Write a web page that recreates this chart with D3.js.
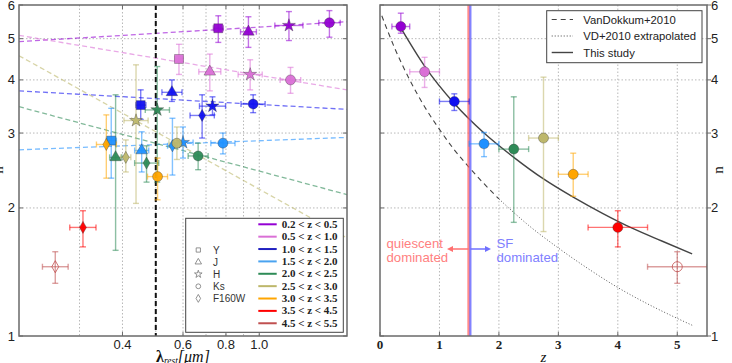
<!DOCTYPE html>
<html><head><meta charset="utf-8">
<script src="https://cdn.jsdelivr.net/npm/d3@7"></script>
<style>body{margin:0;background:#fff}</style>
</head><body>
<svg id="c" width="732" height="363"></svg>
<script>
// ---------------- data ----------------
const bins = ["0.2 < z < 0.5","0.5 < z < 1.0","1.0 < z < 1.5","1.5 < z < 2.0","2.0 < z < 2.5","2.5 < z < 3.0","3.0 < z < 3.5","3.5 < z < 4.5","4.5 < z < 5.5"];
const binColors = ["#9400d3","#da70d6","#1010f0","#1e90ff","#2e8b57","#bdb76b","#ffa500","#ff0000","#c05050"];
const legendLineColors = ["#9400d3","#da70d6","#2020c0","#4aa3f0","#2e8b57","#bdb76b","#ffa500","#ff0000","#c05050"];
const bands = ["Y","J","H","Ks","F160W"];
const xTicksLeft = [0.4,0.6,0.8,1.0];
const xGridLeft = [0.3,0.4,0.5,0.6,0.7,0.8,0.9,1.0];
const yTicks = [1,2,3,4,5,6];
const xTicksRight = [0,1,2,3,4,5];

// left panel: n vs rest-frame wavelength
const pBin  = [0,0,0,0, 1,1,1,1, 2,2,2,2,2, 3,3,3,3,3, 4,4,4,4, 5,5,5, 6,6, 7, 8];
const pBand = ["Y","J","H","Ks", "Y","J","H","Ks", "Y","J","H","Ks","F160W", "Y","J","H","F160W","Ks", "J","H","F160W","Ks", "H","F160W","Ks", "F160W","Ks", "F160W","F160W"];
const pLam  = [0.760,0.930,1.220,1.600, 0.584,0.718,0.941,1.233, 0.452,0.557,0.731,0.960,0.682, 0.371,0.455,0.600,0.559,0.784, 0.382,0.505,0.470,0.664, 0.438,0.409,0.576, 0.359,0.506, 0.307, 0.255];
const pLamLo= [0.735,0.882,1.110,1.490, 0.568,0.667,0.868,1.150, 0.437,0.521,0.670,0.885,0.629, 0.359,0.434,0.561,0.541,0.723, 0.367,0.466,0.434,0.621, 0.404,0.395,0.546, 0.336,0.473, 0.281, 0.234];
const pLamHi= [0.786,0.981,1.340,1.720, 0.600,0.773,1.020,1.320, 0.468,0.596,0.798,1.040,0.740, 0.384,0.477,0.642,0.578,0.850, 0.398,0.548,0.510,0.710, 0.475,0.423,0.608, 0.384,0.541, 0.335, 0.278];
const pN    = [5.29,5.19,5.37,5.45, 4.48,4.18,4.12,4.00, 3.49,3.74,3.47,3.51,3.30, 2.88,2.73,2.85,2.80,2.84, 2.63,3.40,2.55,2.65, 3.21,2.63,2.84, 2.82,2.37, 1.80, 1.455];
const pNLo  = [4.90,4.77,4.95,5.04, 4.12,3.77,3.79,3.72, 3.23,3.56,3.31,3.35,2.92, 2.35,2.43,2.62,2.39,2.68, 1.59,2.30,2.30,2.46, 2.05,2.43,2.60, 2.35,2.09, 1.62, 1.33];
const pNHi  = [5.66,5.63,5.79,5.82, 4.85,4.60,4.46,4.28, 3.79,4.00,3.65,3.69,3.69, 3.43,3.02,3.10,3.25,3.00, 3.69,4.30,2.80,2.84, 4.34,2.89,3.10, 3.31,2.62, 1.97, 1.578];

// left panel: per-bin trend lines (n at lambda = 0.2 and 1.8)
const fitBin = [0,1,2,3,4,5];
const fitNStart = [4.92,5.09,3.77,2.74,3.46,4.56];
const fitNEnd   = [5.48,3.79,3.41,2.93,2.15,1.70];
const lamSplit = 0.5;

// right panel: n vs z
const rz   = [0.35,0.75,1.25,1.75,2.25,2.75,3.25,4.0,5.0];
const rzLo = [0.2,0.5,1.0,1.5,2.0,2.5,3.0,3.5,4.5];
const rzHi = [0.5,1.0,1.5,2.0,2.5,3.0,3.5,4.5,5.5];
const rn   = [5.34,4.18,3.56,2.83,2.75,2.92,2.40,1.80,1.455];
const rnLo = [5.15,3.84,3.39,2.64,1.85,1.76,2.13,1.62,1.33];
const rnHi = [5.74,4.52,3.71,3.01,3.65,4.06,2.69,1.97,1.578];

const studyZ = [0.35,0.75,1.25,1.75,2.25,2.75,3.25,3.75,4.25,4.75,5.25];
const studyN = [5.30,4.31,3.52,3.00,2.63,2.34,2.12,1.94,1.79,1.67,1.56];
const vdZ = [0.03,0.25,0.5,0.75,1.0,1.25,1.5,1.75,2.0];
const vdN = [5.66,4.74,4.00,3.46,3.06,2.74,2.49,2.28,2.10];
const vdExtZ = [2.0,2.5,3.0,3.5,4.0,4.5,5.0,5.25];
const vdExtN = [2.10,1.82,1.61,1.44,1.30,1.19,1.10,1.06];
const zSplitQ = 1.49, zSplitSF = 1.52;
const rightLegend = ["VanDokkum+2010","VD+2010 extrapolated","This study"];

// ---------------- drawing ----------------
const svg = d3.select("#c");
const L = {x0:19, x1:347, y0:5, y1:336};
const R = {x0:380, x1:707, y0:5, y1:336};
const xL = d3.scaleLog().domain([0.2,1.8]).range([L.x0,L.x1]);
const yS = d3.scaleLog().domain([1,6]).range([L.y1,L.y0]);
const xR = d3.scaleLinear().domain([0,5.5]).range([R.x0,R.x1]);
const sans = "Liberation Sans, Arial, sans-serif";
const serif = "Liberation Serif, DejaVu Serif, serif";
const gridCol = "#b8b8b8";
const frameCol = "#6a6a6a";

const symMap = {Y:d3.symbolSquare, J:d3.symbolTriangle, H:d3.symbolStar, Ks:d3.symbolCircle, F160W:d3.symbolDiamond};
const symSize = {Y:80, J:58, H:52, Ks:78, F160W:42};

function clip(id, P){
  svg.append("clipPath").attr("id",id).append("rect")
    .attr("x",P.x0).attr("y",P.y0).attr("width",P.x1-P.x0).attr("height",P.y1-P.y0);
}
clip("cl",L); clip("cr",R);

function errbar(g, x, y, xlo, xhi, ylo, yhi, col){
  const eg = g.append("g").attr("stroke",col).attr("stroke-opacity",0.55).attr("stroke-width",1.4).attr("fill","none");
  eg.append("line").attr("x1",xlo).attr("x2",xhi).attr("y1",y).attr("y2",y);
  eg.append("line").attr("x1",x).attr("x2",x).attr("y1",ylo).attr("y2",yhi);
  eg.append("line").attr("x1",xlo).attr("x2",xlo).attr("y1",y-3).attr("y2",y+3);
  eg.append("line").attr("x1",xhi).attr("x2",xhi).attr("y1",y-3).attr("y2",y+3);
  eg.append("line").attr("x1",x-3).attr("x2",x+3).attr("y1",ylo).attr("y2",ylo);
  eg.append("line").attr("x1",x-3).attr("x2",x+3).attr("y1",yhi).attr("y2",yhi);
}

// ===== LEFT PANEL =====
const gl = svg.append("g");
xGridLeft.forEach(v=>gl.append("line").attr("x1",xL(v)).attr("x2",xL(v)).attr("y1",L.y0).attr("y2",L.y1)
  .attr("stroke",gridCol).attr("stroke-dasharray","1.5,2").attr("stroke-width",1));
yTicks.slice(1,-1).forEach(v=>gl.append("line").attr("x1",L.x0).attr("x2",L.x1).attr("y1",yS(v)).attr("y2",yS(v))
  .attr("stroke",gridCol).attr("stroke-dasharray","1.5,2").attr("stroke-width",1));

const glc = gl.append("g").attr("clip-path","url(#cl)");
fitBin.forEach((b,i)=>{
  glc.append("line").attr("x1",xL(0.2)).attr("x2",xL(1.8)).attr("y1",yS(fitNStart[i])).attr("y2",yS(fitNEnd[i]))
    .attr("stroke",binColors[b]).attr("stroke-opacity",0.6).attr("stroke-width",1.3).attr("stroke-dasharray","5,3");
});
glc.append("line").attr("x1",xL(lamSplit)).attr("x2",xL(lamSplit)).attr("y1",L.y0).attr("y2",L.y1)
  .attr("stroke","#111").attr("stroke-width",2).attr("stroke-dasharray","5,3");
pLam.forEach((v,i)=>{
  errbar(glc, xL(v), yS(pN[i]), xL(pLamLo[i]), xL(pLamHi[i]), yS(pNLo[i]), yS(pNHi[i]), binColors[pBin[i]]);
});
pLam.forEach((v,i)=>{
  const b = pBin[i], open = b===8;
  glc.append("path").attr("d",d3.symbol().type(symMap[pBand[i]]).size(symSize[pBand[i]])())
    .attr("transform",`translate(${xL(v)},${yS(pN[i])})`)
    .attr("fill",open?"none":binColors[b]).attr("fill-opacity",0.95)
    .attr("stroke",open?binColors[b]:"#333").attr("stroke-opacity",open?0.8:0.5).attr("stroke-width",open?1:0.7);
});
// legend
const lg = gl.append("g");
lg.append("rect").attr("x",185.7).attr("y",218.3).attr("width",157.6).attr("height",114)
  .attr("fill","#fff").attr("stroke","#444").attr("stroke-width",1);
bins.forEach((t,i)=>{
  const y = 224.3 + i*12.37;
  lg.append("line").attr("x1",258.3).attr("x2",276.7).attr("y1",y).attr("y2",y)
    .attr("stroke",legendLineColors[i]).attr("stroke-width",2);
  lg.append("text").attr("x",281.7).attr("y",y+3.6).text(t)
    .attr("font-family",serif).attr("font-weight","bold").attr("font-size",11).attr("fill","#222");
});
bands.forEach((t,i)=>{
  const y = 250 + i*12.1;
  lg.append("path").attr("d",d3.symbol().type(symMap[t]).size(18)())
    .attr("transform",`translate(198.3,${y})`).attr("fill","none").attr("stroke","#777").attr("stroke-width",0.8);
  lg.append("text").attr("x",213).attr("y",y+3.5).text(t)
    .attr("font-family",sans).attr("font-size",10).attr("fill","#333");
});
gl.append("rect").attr("x",L.x0).attr("y",L.y0).attr("width",L.x1-L.x0).attr("height",L.y1-L.y0)
  .attr("fill","none").attr("stroke",frameCol).attr("stroke-width",1.5);
yTicks.forEach(v=>{
  gl.append("line").attr("x1",L.x0).attr("x2",L.x0+4).attr("y1",yS(v)).attr("y2",yS(v)).attr("stroke",frameCol);
  gl.append("line").attr("x1",L.x1-4).attr("x2",L.x1).attr("y1",yS(v)).attr("y2",yS(v)).attr("stroke",frameCol);
  gl.append("text").attr("x",15).attr("y",yS(v)+4.5).attr("text-anchor","end").text(v)
    .attr("font-family",sans).attr("font-size",13).attr("fill","#222");
});
xTicksLeft.forEach(v=>{
  gl.append("line").attr("x1",xL(v)).attr("x2",xL(v)).attr("y1",L.y1-4).attr("y2",L.y1).attr("stroke",frameCol);
  gl.append("line").attr("x1",xL(v)).attr("x2",xL(v)).attr("y1",L.y0).attr("y2",L.y0+4).attr("stroke",frameCol);
  gl.append("text").attr("x",xL(v)).attr("y",348.5).attr("text-anchor","middle").text(v.toFixed(1))
    .attr("font-family",sans).attr("font-size",13).attr("fill","#222");
});
const xl = gl.append("text").attr("x",183).attr("y",361.5).attr("text-anchor","middle")
  .attr("font-family",serif).attr("font-size",16).attr("fill","#111");
xl.append("tspan").attr("font-weight","bold").text("λ");
xl.append("tspan").attr("font-size",9.5).attr("dy",2.5).attr("font-style","italic").text("rest");
xl.append("tspan").attr("dy",-2.5).attr("font-style","italic").text("[μm]");
gl.append("text").attr("transform","translate(3,170) rotate(-90)").attr("text-anchor","middle")
  .attr("font-family",serif).attr("font-size",15).attr("fill","#111").text("n");

// ===== RIGHT PANEL =====
const gr = svg.append("g");
xTicksRight.slice(1).forEach(v=>gr.append("line").attr("x1",xR(v)).attr("x2",xR(v)).attr("y1",R.y0).attr("y2",R.y1)
  .attr("stroke",gridCol).attr("stroke-dasharray","1.5,2"));
yTicks.slice(1,-1).forEach(v=>gr.append("line").attr("x1",R.x0).attr("x2",R.x1).attr("y1",yS(v)).attr("y2",yS(v))
  .attr("stroke",gridCol).attr("stroke-dasharray","1.5,2"));
const grc = gr.append("g").attr("clip-path","url(#cr)");
const lineZ = d3.line().x(d=>xR(d[0])).y(d=>yS(d[1])).curve(d3.curveMonotoneX);
grc.append("path").attr("d",lineZ(vdZ.map((z,i)=>[z,vdN[i]]))).attr("fill","none")
  .attr("stroke","#444").attr("stroke-width",1.1).attr("stroke-dasharray","5,4");
grc.append("path").attr("d",lineZ(vdExtZ.map((z,i)=>[z,vdExtN[i]]))).attr("fill","none")
  .attr("stroke","#555").attr("stroke-width",1).attr("stroke-dasharray","1,2");
grc.append("path").attr("d",lineZ(studyZ.map((z,i)=>[z,studyN[i]]))).attr("fill","none")
  .attr("stroke","#444").attr("stroke-width",1.4);
grc.append("line").attr("x1",xR(zSplitQ)).attr("x2",xR(zSplitQ)).attr("y1",R.y0).attr("y2",R.y1)
  .attr("stroke","#ff5a5a").attr("stroke-opacity",0.7).attr("stroke-width",2.5);
grc.append("line").attr("x1",xR(zSplitSF)).attr("x2",xR(zSplitSF)).attr("y1",R.y0).attr("y2",R.y1)
  .attr("stroke","#5a5aff").attr("stroke-opacity",0.75).attr("stroke-width",2.2);
const ay = 249;
gr.append("line").attr("x1",xR(zSplitQ)).attr("x2",451).attr("y1",ay).attr("y2",ay).attr("stroke","#ff7070").attr("stroke-width",1.5);
gr.append("path").attr("d",`M447,${ay} L453,${ay-3} L453,${ay+3} Z`).attr("fill","#ff7070");
gr.append("line").attr("x1",xR(zSplitSF)).attr("x2",487).attr("y1",ay).attr("y2",ay).attr("stroke","#7070ff").attr("stroke-width",1.5);
gr.append("path").attr("d",`M491,${ay} L485,${ay-3} L485,${ay+3} Z`).attr("fill","#7070ff");
[["quiescent",247.5],["dominated",261.5]].forEach(([t,y])=>gr.append("text").attr("x",386.5).attr("y",y).text(t)
  .attr("font-family",sans).attr("font-size",13.2).attr("fill","#ff7f7f"));
[["SF",247.5],["dominated",261.5]].forEach(([t,y])=>gr.append("text").attr("x",496.5).attr("y",y).text(t)
  .attr("font-family",sans).attr("font-size",13.2).attr("fill","#8080ff"));
rz.forEach((z,i)=>errbar(grc, xR(z), yS(rn[i]), xR(rzLo[i]), xR(rzHi[i]), yS(rnLo[i]), yS(rnHi[i]), binColors[i]));
rz.forEach((z,i)=>{
  const open = i===8;
  grc.append("circle").attr("cx",xR(z)).attr("cy",yS(rn[i])).attr("r",5)
    .attr("fill",open?"none":binColors[i]).attr("stroke",open?binColors[i]:"#333")
    .attr("stroke-opacity",open?0.8:0.5).attr("stroke-width",open?1:0.7);
});
const rl = gr.append("g");
rl.append("rect").attr("x",546.7).attr("y",10.7).attr("width",155.3).attr("height",52)
  .attr("fill","#fff").attr("stroke","#444").attr("stroke-width",1);
const dashes = ["5,4","1,2",null];
rightLegend.forEach((t,i)=>{
  const y = 19.5 + i*16.5;
  const ln = rl.append("line").attr("x1",551.7).attr("x2",573).attr("y1",y).attr("y2",y)
    .attr("stroke","#444").attr("stroke-width",i===2?1.4:1.1);
  if(dashes[i]) ln.attr("stroke-dasharray",dashes[i]);
  rl.append("text").attr("x",583.3).attr("y",y+4).text(t)
    .attr("font-family",sans).attr("font-size",11.3).attr("fill","#222");
});
gr.append("rect").attr("x",R.x0).attr("y",R.y0).attr("width",R.x1-R.x0).attr("height",R.y1-R.y0)
  .attr("fill","none").attr("stroke",frameCol).attr("stroke-width",1.5);
yTicks.forEach(v=>{
  gr.append("line").attr("x1",R.x1).attr("x2",R.x1+4).attr("y1",yS(v)).attr("y2",yS(v)).attr("stroke",frameCol);
  gr.append("line").attr("x1",R.x0).attr("x2",R.x0+4).attr("y1",yS(v)).attr("y2",yS(v)).attr("stroke",frameCol);
  gr.append("text").attr("x",711).attr("y",yS(v)+4.5).text(v)
    .attr("font-family",sans).attr("font-size",13).attr("fill","#222");
});
xTicksRight.forEach(v=>{
  gr.append("line").attr("x1",xR(v)).attr("x2",xR(v)).attr("y1",R.y1-4).attr("y2",R.y1).attr("stroke",frameCol);
  gr.append("text").attr("x",xR(v)).attr("y",348.5).attr("text-anchor","middle").text(v)
    .attr("font-family",serif).attr("font-weight","bold").attr("font-size",13).attr("fill","#222");
});
gr.append("text").attr("x",543.5).attr("y",362).attr("text-anchor","middle")
  .attr("font-family",serif).attr("font-style","italic").attr("font-size",15).attr("fill","#111").text("z");
gr.append("text").attr("transform","translate(723,170) rotate(-90)").attr("text-anchor","middle")
  .attr("font-family",serif).attr("font-size",15).attr("fill","#111").text("n");
</script>
</body></html>
